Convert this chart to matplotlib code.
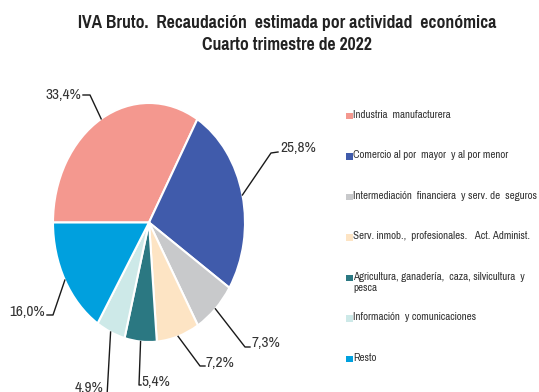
import matplotlib
matplotlib.use("Agg")
import matplotlib.pyplot as plt
from matplotlib.patches import Rectangle
import numpy as np

plt.rcParams["font.family"] = ["Pragati Narrow", "Roboto Condensed", "DejaVu Sans"]

CATEGORIES = [
    "Industria  manufacturera",
    "Comercio al por  mayor  y al por menor",
    "Intermediación  financiera  y serv. de  seguros",
    "Serv. inmob.,  profesionales.   Act. Administ.",
    "Agricultura, ganadería,  caza, silvicultura  y\npesca",
    "Información  y comunicaciones",
    "Resto",
]
SHARES = [33.4, 25.8, 7.3, 7.2, 5.4, 4.9, 16.0]
COLORS = ["#F4988F", "#405BAB", "#C8C9CB", "#FDE4C4", "#2B7882", "#CDE9E8", "#00A0DE"]

W, H = 539, 392
# pie ellipse in pixels: center and radii
CX, CY, RX, RY = 149, 222.5, 96, 119.5


def px(x, y):
    # pixel position -> pie data units
    return (x - CX) / RX, (CY - y) / RY


# label layout: (elbow, end of line, text pos, ha)
LABEL_LAYOUT = [
    ((90, 95), (83, 95), (81, 95), "right"),
    ((271, 153), (278, 152), (280, 148), "left"),
    ((245, 347), (250, 347), (252, 343), "left"),
    ((200, 366), (205, 366), (205, 363), "left"),
    ((139, 385), (141, 385), (141, 382), "left"),
    ((107, 396), (104, 396), (103, 388), "right"),
    ((53, 315), (47, 315), (45, 312), "right"),
]

fig = plt.figure(figsize=(W / 100, H / 100), dpi=100)
ax = fig.add_axes([(CX - RX) / W, (H - CY - RY) / H, 2 * RX / W, 2 * RY / H])

wedges, _ = ax.pie(SHARES, colors=COLORS, startangle=180, counterclock=False,
                   wedgeprops=dict(edgecolor="white", linewidth=1.5))
ax.set_aspect("auto")
ax.set_xlim(-1, 1)
ax.set_ylim(-1, 1)
ax.axis("off")

for w, val, (elbow, end, tpos, ha) in zip(wedges, SHARES, LABEL_LAYOUT):
    mid = np.deg2rad((w.theta1 + w.theta2) / 2)
    ax0, ay0 = np.cos(mid), np.sin(mid)
    ex, ey = px(*elbow)
    nx, ny = px(*end)
    ax.plot([ax0, ex, nx], [ay0, ey, ny], color="#1a1a1a", lw=1.0, clip_on=False)
    tx, ty = px(*tpos)
    ax.text(tx, ty, f"{val:.1f}%".replace(".", ","), ha=ha, va="center",
            fontsize=12, color="#333333", clip_on=False)

# overlay axes in pixel units for title and legend
lax = fig.add_axes([0, 0, 1, 1])
lax.set_xlim(0, W)
lax.set_ylim(H, 0)
lax.axis("off")

lax.text(287, 23, "IVA Bruto.  Recaudación  estimada por actividad  económica",
         ha="center", va="center", fontsize=13.8, fontweight="bold", color="#222222")
lax.text(287, 45, "Cuarto trimestre de 2022",
         ha="center", va="center", fontsize=13.8, fontweight="bold", color="#222222")

for i, (name, col) in enumerate(zip(CATEGORIES, COLORS)):
    y = 116 + i * 40.5
    lax.add_patch(Rectangle((346, y - 3.5), 6.5, 6.5, facecolor=col, edgecolor="none"))
    lax.text(353, y - 6.3, name, ha="left", va="top", fontsize=8.6,
             color="#333333", linespacing=1.15)

fig.savefig("out.png", dpi=100)
